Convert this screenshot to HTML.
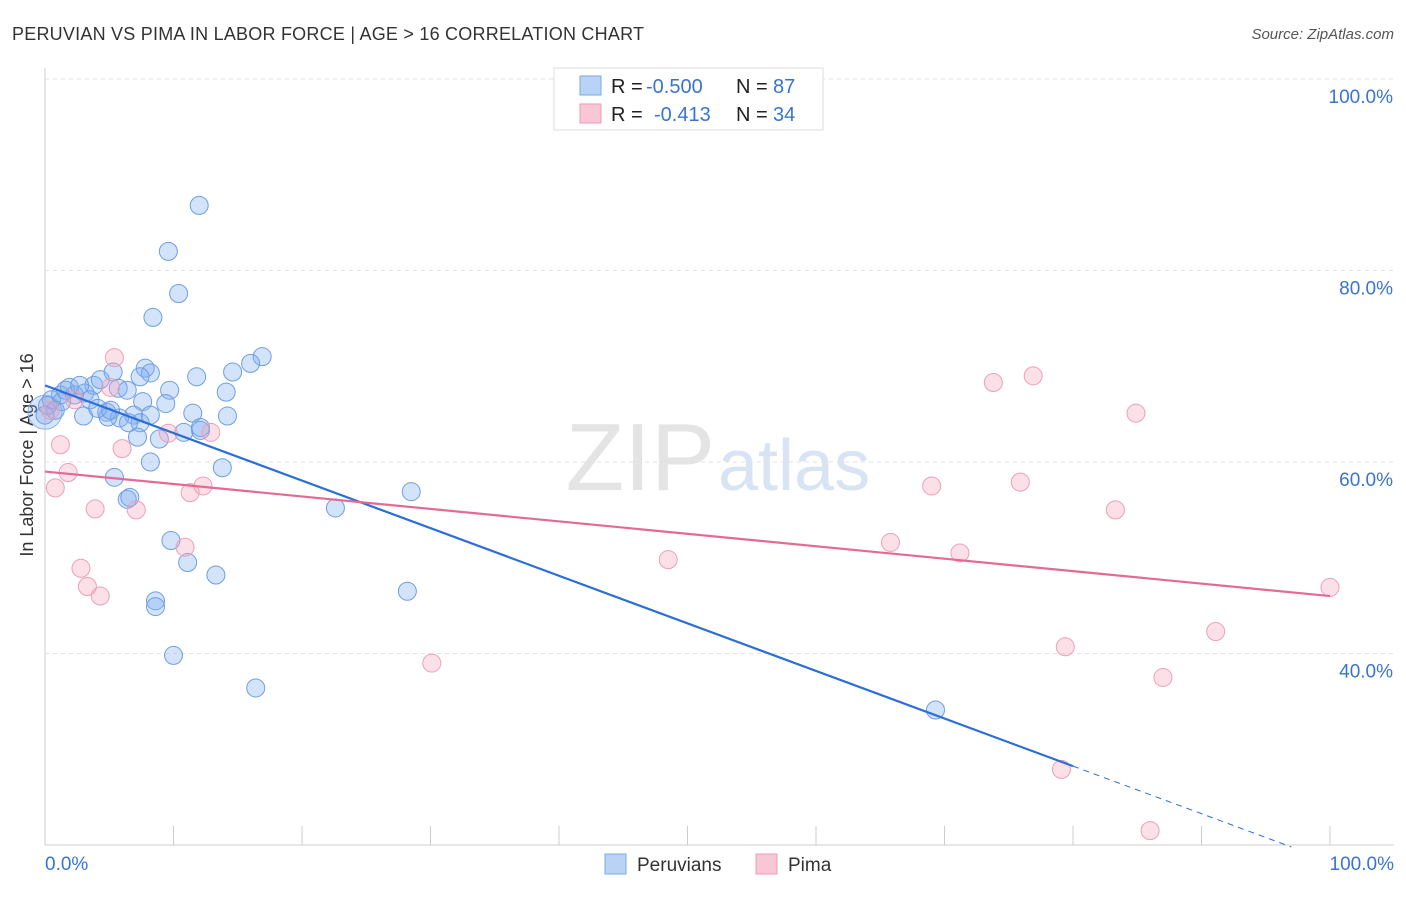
<!DOCTYPE html>
<html><head><meta charset="utf-8"><style>
body{margin:0;background:#fff;font-family:"Liberation Sans",sans-serif;}
svg text{font-family:"Liberation Sans",sans-serif;}
</style></head><body>
<svg width="1406" height="892" id="c">
<text x="12" y="40" font-size="18" fill="#333" textLength="632">PERUVIAN VS PIMA IN LABOR FORCE | AGE &gt; 16 CORRELATION CHART</text>
<text x="1394" y="39" font-size="15" fill="#555" text-anchor="end" font-style="italic">Source: ZipAtlas.com</text>
<text x="33" y="455" font-size="18" fill="#333" text-anchor="middle" transform="rotate(-90 33 455)">In Labor Force | Age &gt; 16</text>
<text x="715" y="490" font-size="96" fill="#e4e4e4" text-anchor="end" font-family="Liberation Serif">ZIP</text>
<text x="718" y="490" font-size="72" fill="#d8e4f4">atlas</text>
<g id="grid"></g><g id="marks"></g>
<g>
<rect x="554" y="68" width="269" height="62" fill="#fff" stroke="#ddd"/>
<rect x="580" y="76" width="21" height="19" fill="#b9d3f5" stroke="#7aa8e8"/>
<rect x="580" y="104" width="21" height="19" fill="#f9c6d5" stroke="#ee9ab5"/>
<text x="611" y="93" font-size="20" fill="#222">R =</text>
<text x="646" y="93" font-size="20" fill="#3a74d0">-0.500</text>
<text x="736" y="93" font-size="20" fill="#222">N =</text>
<text x="773" y="93" font-size="20" fill="#3a74d0">87</text>
<text x="611" y="121" font-size="20" fill="#222">R =</text>
<text x="654" y="121" font-size="20" fill="#3a74d0">-0.413</text>
<text x="736" y="121" font-size="20" fill="#222">N =</text>
<text x="773" y="121" font-size="20" fill="#3a74d0">34</text>
</g>
<g>
<rect x="605" y="854" width="21" height="20" fill="#b9d3f5" stroke="#7aa8e8"/>
<text x="637" y="871" font-size="19" fill="#333">Peruvians</text>
<rect x="756" y="854" width="21" height="20" fill="#f9c6d5" stroke="#ee9ab5"/>
<text x="788" y="871" font-size="19" fill="#333">Pima</text>
</g>
</svg>
<script>
const yTicks=[100,80,60,40];
const yTickLabels=["100.0%","80.0%","60.0%","40.0%"];
const blueX=[12.0,9.6,10.4,8.4,16.9,16.0,14.6,7.8,8.2,7.4,5.3,11.8,9.7,14.1,5.7,3.8,1.9,1.2,0.5,0.2,3.1,4.3,4.8,6.4,7.6,9.4,11.5,14.2,6.9,5.8,4.9,3.0,7.4,6.5,12.1,10.8,7.2,8.9,8.2,13.8,5.4,6.4,6.6,28.5,22.6,9.8,11.1,13.3,8.6,8.6,28.2,10.0,16.4,69.3,1.3,2.3,3.5,0.8,1.6,2.7,4.1,12.1,5.1,8.2,0];
const blueY=[86.8,82.0,77.6,75.1,71.0,70.3,69.4,69.8,69.3,68.9,69.4,68.9,67.5,67.3,67.7,68.0,67.8,67.0,66.5,65.9,67.2,68.6,65.2,67.5,66.3,66.1,65.1,64.8,64.9,64.6,64.7,64.8,64.1,64.1,63.3,63.1,62.6,62.4,60.0,59.4,58.4,56.1,56.3,56.9,55.2,51.8,49.5,48.2,45.5,44.9,46.5,39.8,36.4,34.1,66.3,67.0,66.5,65.4,67.5,68.0,65.6,63.6,65.4,64.9,64.9];
const pinkX=[5.4,1.2,1.8,0.8,3.9,2.8,3.3,4.3,6.0,7.1,5.1,9.6,11.3,12.3,12.9,10.9,48.5,30.1,65.8,69.0,71.2,73.8,76.9,75.9,83.3,84.9,79.4,91.1,87.0,79.1,86.0,100,0.4,2.3];
const pinkY=[70.9,61.8,58.9,57.3,55.1,48.9,47.0,46.0,61.4,55.0,67.8,63.0,56.8,57.5,63.1,51.1,49.8,39.0,51.6,57.5,50.5,68.3,69.0,57.9,55.0,65.1,40.7,42.3,37.5,27.9,21.5,46.9,65.4,66.5];
const blueTrend=[68.0,-0.497]; const pinkTrend=[59.0,-0.13];
const X=v=>45+v*12.85, Y=v=>79+(100-v)*9.575;
const NS="http://www.w3.org/2000/svg";
function mk(t,a,p){const e=document.createElementNS(NS,t);for(const k in a)e.setAttribute(k,a[k]);p.appendChild(e);return e;}
const g=document.getElementById('grid'),m=document.getElementById('marks');
mk('line',{x1:45,y1:68,x2:45,y2:845,stroke:'#ccc'},g);
mk('line',{x1:45,y1:845,x2:1394,y2:845,stroke:'#ccc'},g);
yTicks.forEach((t,i)=>{const l=mk('line',{x1:45,y1:Y(t),x2:1394,y2:Y(t),stroke:'#e2e2e2','stroke-dasharray':'4,4'},g);

const tx=mk('text',{x:1393,y:Y(t)+24,'font-size':19,fill:'#3a74d0','text-anchor':'end'},g);tx.textContent=yTickLabels[i];
});
for(let i=1;i<=10;i++){const x=45+i*128.5;const l=mk('line',{x1:x,y1:826,x2:x,y2:845,stroke:'#ccc'},g);}
let t=mk('text',{x:45,y:870,'font-size':19,fill:'#3a74d0'},g);t.textContent='0.0%';
t=mk('text',{x:1394,y:870,'font-size':19,fill:'#3a74d0','text-anchor':'end'},g);t.textContent='100.0%';
let big=mk('circle',{cx:X(0),cy:Y(65.2),r:17,fill:'rgba(120,170,240,0.3)',stroke:'#8fb4e8'},m);

blueX.forEach((v,i)=>{const c=mk('circle',{cx:X(v),cy:Y(blueY[i]),r:9,fill:'rgba(130,175,240,0.35)',stroke:'#6f9ee0','stroke-width':1},m);
});
pinkX.forEach((v,i)=>{const c=mk('circle',{cx:X(v),cy:Y(pinkY[i]),r:9,fill:'rgba(245,165,190,0.35)',stroke:'#eba0b8','stroke-width':1},m);
});
let l=mk('line',{x1:X(0),y1:Y(blueTrend[0]),x2:X(80),y2:Y(blueTrend[0]+80*blueTrend[1]),stroke:'#2b6fd6','stroke-width':2.2},m);

l=mk('line',{x1:X(80),y1:Y(blueTrend[0]+80*blueTrend[1]),x2:X(97),y2:Y(blueTrend[0]+97*blueTrend[1]),stroke:'#2b6fd6','stroke-width':1,'stroke-dasharray':'6,5'},m);

l=mk('line',{x1:X(0),y1:Y(pinkTrend[0]),x2:X(100),y2:Y(pinkTrend[0]+100*pinkTrend[1]),stroke:'#e46a94','stroke-width':2.2},m);

</script>
</body></html>
